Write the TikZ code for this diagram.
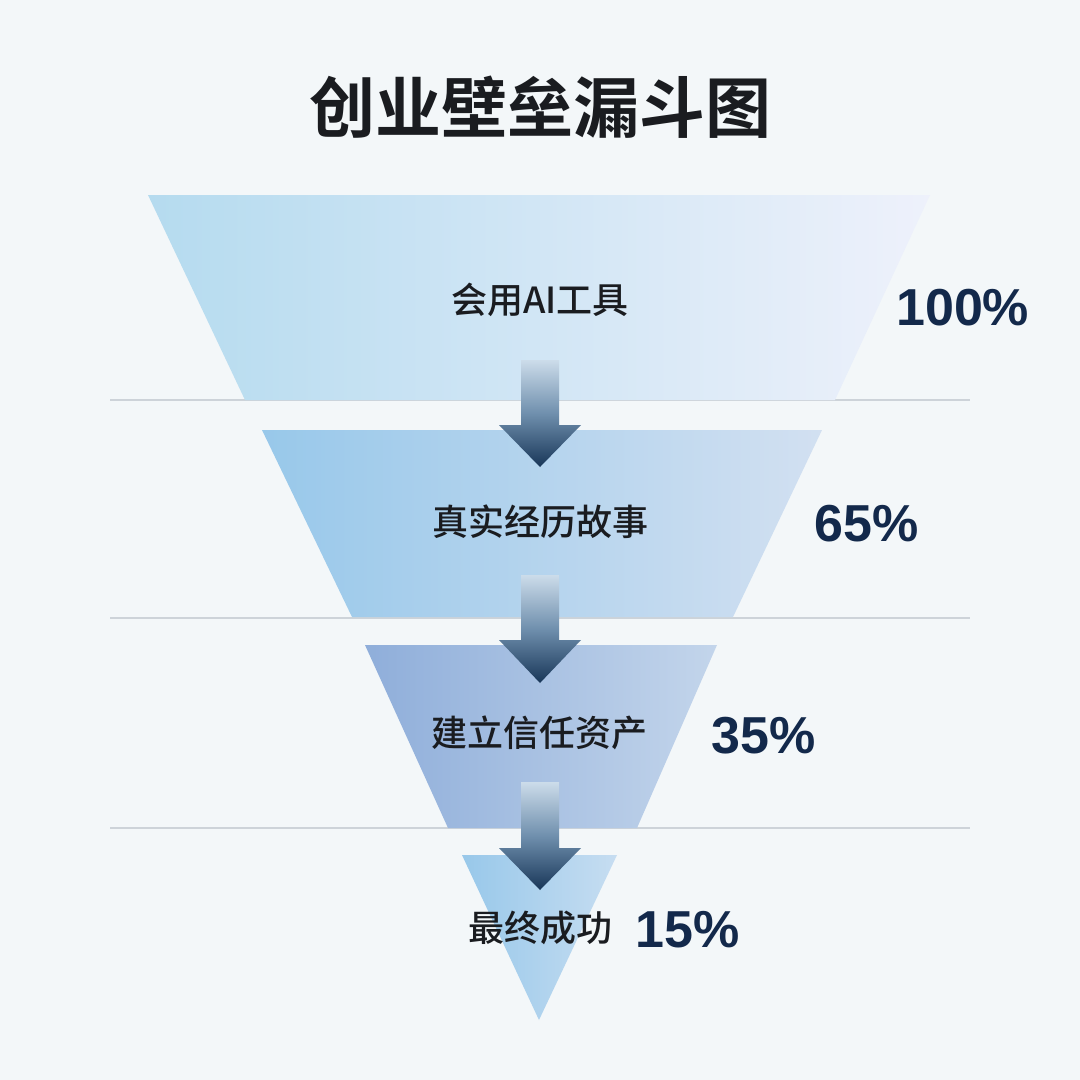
\documentclass[tikz,border=0pt]{standalone}
\usepackage{fontspec}
\newfontfamily\cjk{Noto Sans CJK SC Medium}
\newfontfamily\cjkb{Noto Sans CJK SC Bold}
\newfontfamily\pct{Liberation Sans}
\definecolor{bg}{HTML}{F3F7F9}
\definecolor{rule}{HTML}{CDD3D9}
\definecolor{navy}{HTML}{13294B}
\definecolor{ink}{HTML}{1A1C20}
\definecolor{aL}{HTML}{B5DBEF}
\definecolor{aR}{HTML}{EEF1FB}
\definecolor{bL}{HTML}{98C8EA}
\definecolor{bR}{HTML}{D2E0F1}
\definecolor{cL}{HTML}{8FAEDA}
\definecolor{cR}{HTML}{C3D5EB}
\definecolor{dL}{HTML}{98C8EA}
\definecolor{dR}{HTML}{C6DDF1}
\definecolor{arTop}{HTML}{CCDCEA}
\definecolor{arMid}{HTML}{6F8FAD}
\definecolor{arBot}{HTML}{183658}
\tikzset{
  sep/.style={draw=rule, line width=1.5pt},
  lbl/.style={inner sep=0pt, text=ink, font=\cjk\fontsize{36}{40}\selectfont},
  pc/.style={inner sep=0pt, anchor=west, text=navy, font=\pct\bfseries\fontsize{52}{56}\selectfont},
  flow/.style={top color=arTop, bottom color=arBot, middle color=arMid},
}
\begin{document}
\begin{tikzpicture}[x=1pt,y=-1pt]
\fill[bg] (0,0) rectangle (1080,1080);
\useasboundingbox (0,0) rectangle (1080,1080);
% title
\node[inner sep=0pt, text=ink, font=\cjkb\fontsize{66}{70}\selectfont] (title) at (540,107) {创业壁垒漏斗图};
% separators
\draw[sep] (110,400) -- (970,400);
\draw[sep] (110,618) -- (970,618);
\draw[sep] (110,828) -- (970,828);
% funnel stages
\shade[left color=aL, right color=aR] (148,195) -- (930,195) -- (835,400) -- (245,400) -- cycle;
\shade[left color=bL, right color=bR] (262,430) -- (822,430) -- (733,617) -- (352,617) -- cycle;
\shade[left color=cL, right color=cR] (365,645) -- (717,645) -- (637,828) -- (448,828) -- cycle;
\shade[left color=dL, right color=dR] (462,855) -- (617,855) -- (539,1020) -- cycle;
% flow arrows
\shade[flow] (521,360) -- (559,360) -- (559,425) -- (581,425) -- (540,467) -- (499,425) -- (521,425) -- cycle;
\shade[flow] (521,575) -- (559,575) -- (559,640) -- (581,640) -- (540,683) -- (499,640) -- (521,640) -- cycle;
\shade[flow] (521,782) -- (559,782) -- (559,848) -- (581,848) -- (540,890) -- (499,848) -- (521,848) -- cycle;
% labels
\node[lbl] (s1) at (540,300) {会用AI工具};
\node[lbl] (s2) at (540,522) {真实经历故事};
\node[lbl] (s3) at (539,733) {建立信任资产};
\node[lbl] (s4) at (540,928) {最终成功};
% percentages
\node[pc] (p1) at (896,308) {100\%};
\node[pc] (p2) at (814,524) {65\%};
\node[pc] (p3) at (711,736) {35\%};
\node[pc] (p4) at (635,930) {15\%};
\end{tikzpicture}
\end{document}
